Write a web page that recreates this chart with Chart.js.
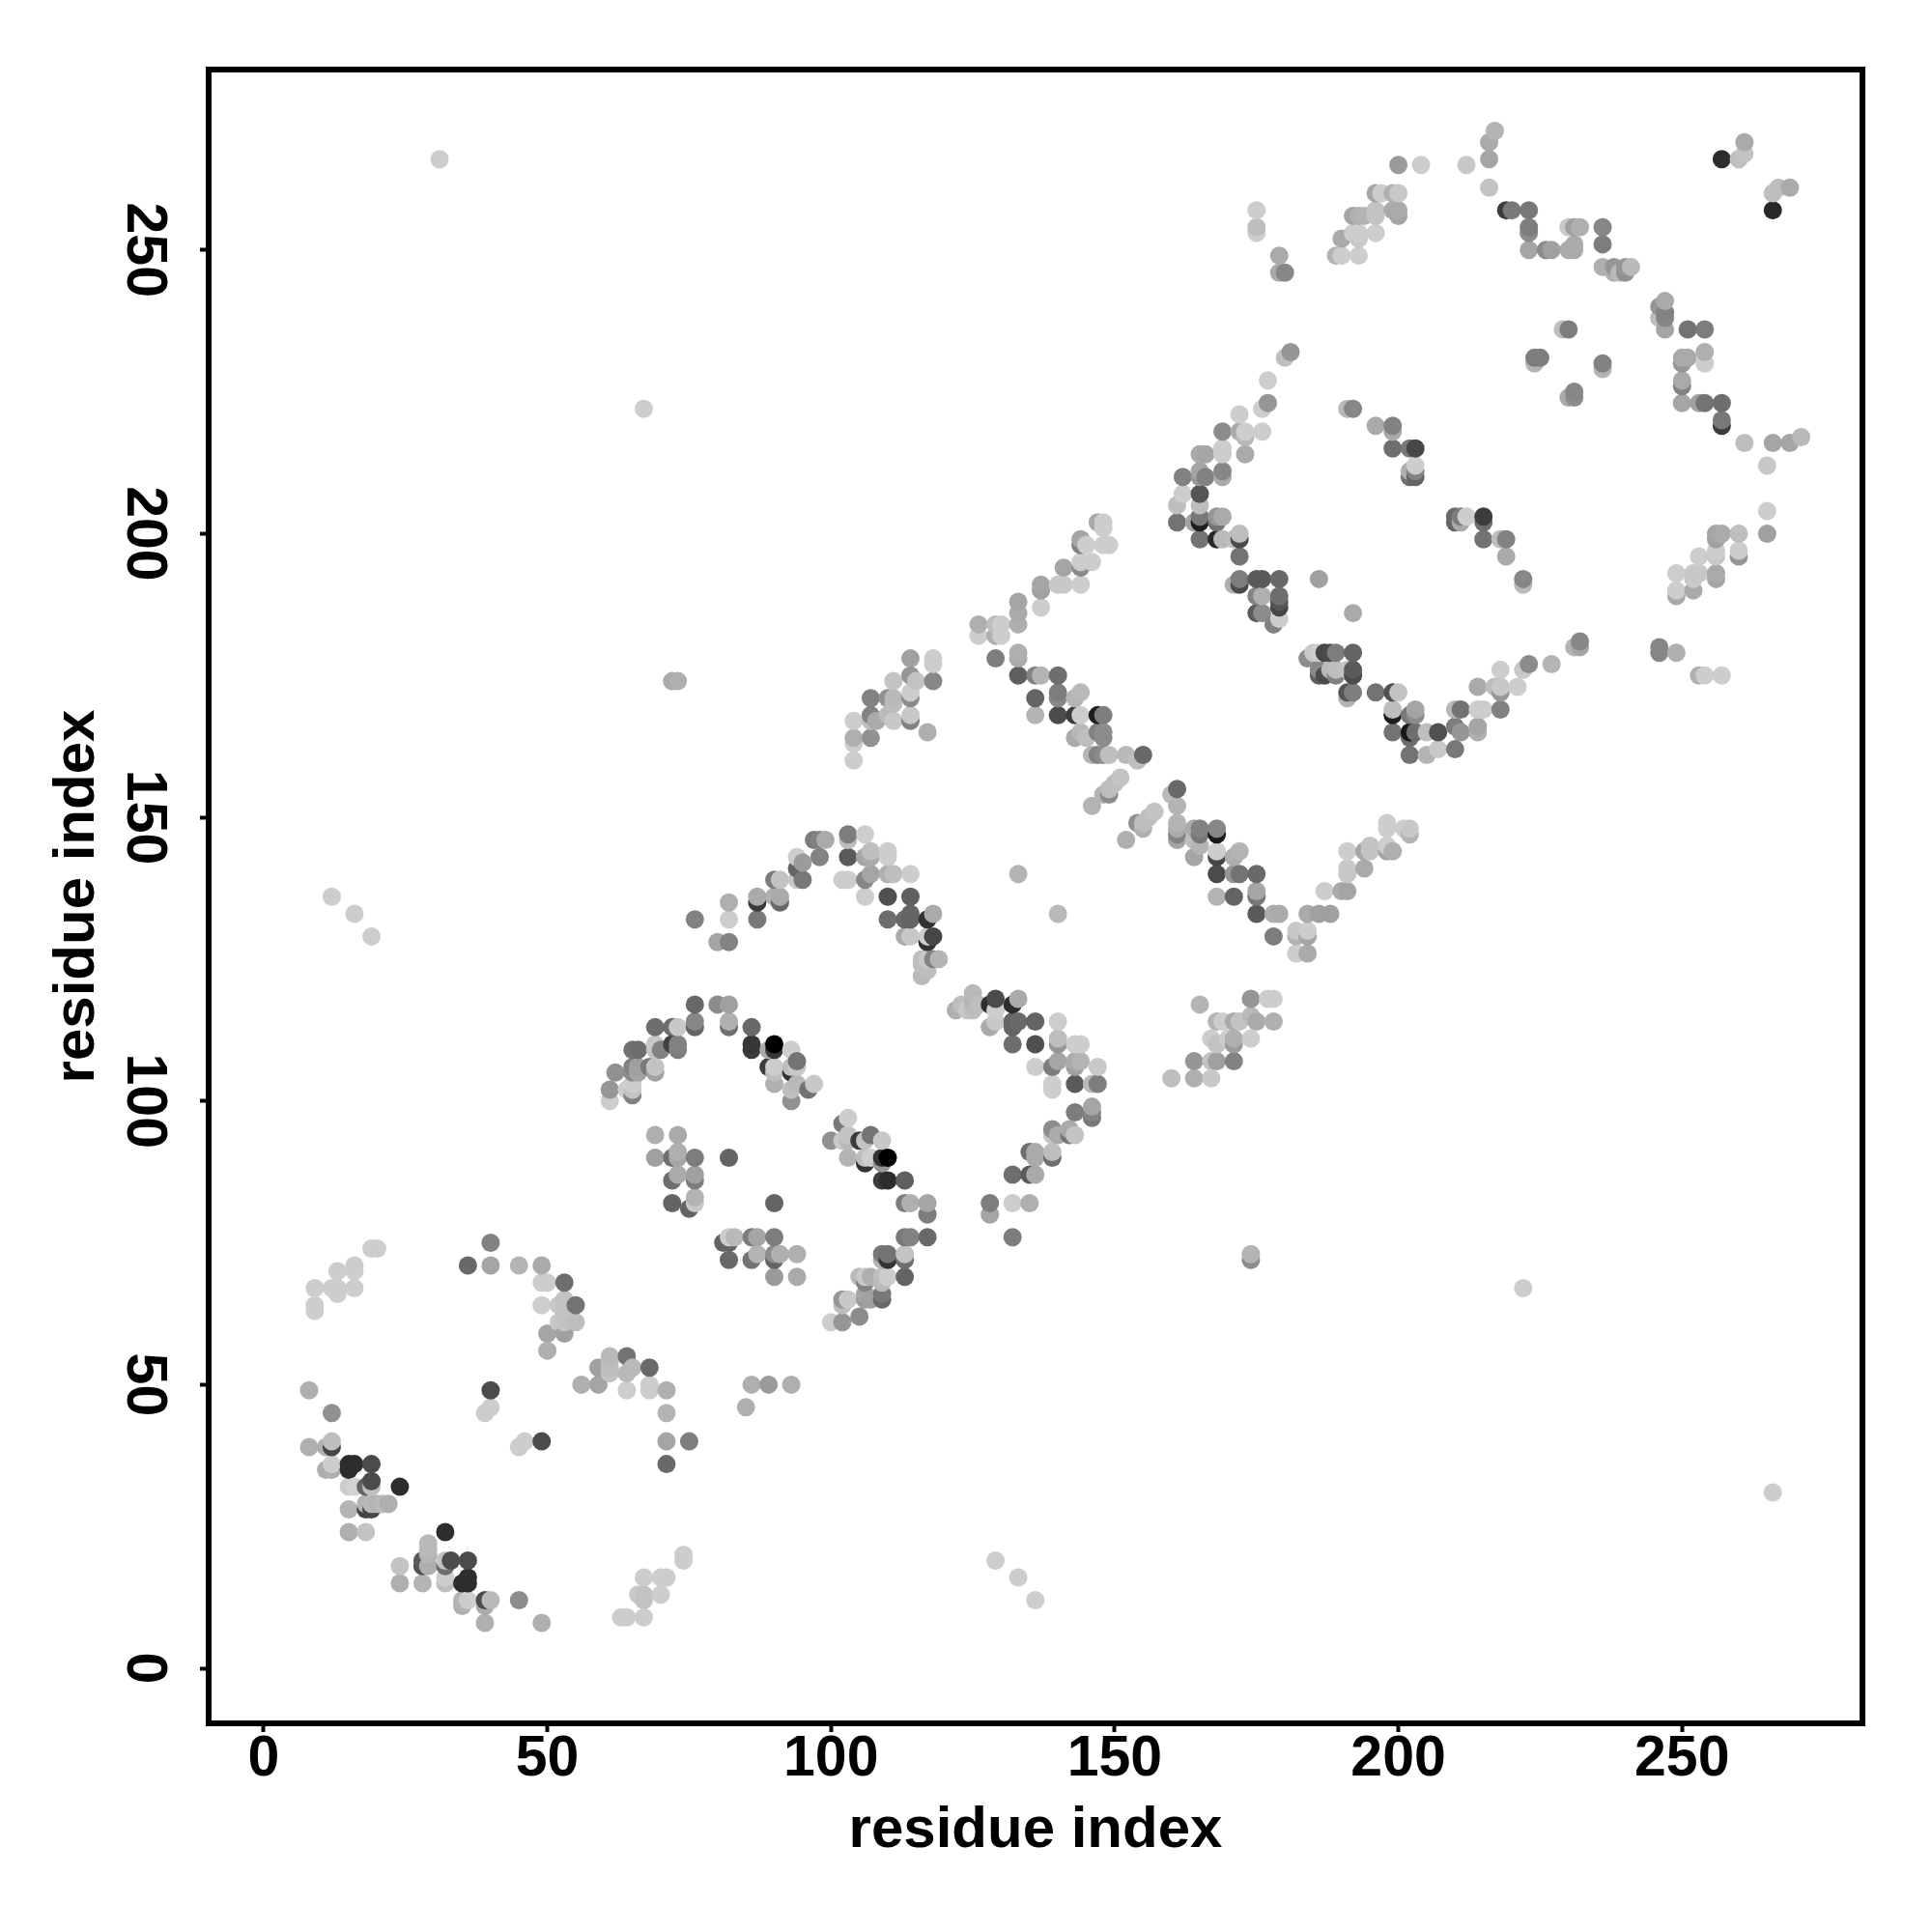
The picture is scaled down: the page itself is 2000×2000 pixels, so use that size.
<!DOCTYPE html>
<html>
<head>
<meta charset="utf-8">
<title>residue contacts</title>
<script src="https://cdn.jsdelivr.net/npm/chart.js@4"></script>
<style>
  body { margin: 0; background: #fff; }
</style>
</head>
<body>
<canvas id="myChart" width="2000" height="2000"></canvas>
<script>
// tick labels of both axes
const tickValues = [0, 50, 100, 150, 200, 250]

// contacts: residue i, residue j, score (0 = faint, 255 = strongest)
const residueI = [
  19,20,16,16,13,9,12,13,13,16,9,9,
  40,36,40,45,49,49,50,53,49,52,53,53,55,52,53,55,50,53,50,
  56,59,59,61,61,61,61,64,64,65,68,64,68,68,71,71,71,75,71,
  40,40,39,49,46,45,8,12,8,11,12,12,11,12,12,15,15,16,19,19,18,15,16,19,24,
  15,18,18,19,19,21,22,20,15,18,32,29,29,29,
  24,24,28,28,29,28,32,32,33,36,32,32,35,36,36,35,35,36,39,40,39,39,45,49,
  74,74,67,70,71,66,67,67,70,63,64,67,
  86,85,89,93,31,67,72,73,12,16,19,174,174,222,129,133,136,266,
  76,80,82,69,72,73,76,76,82,82,86,72,73,73,69,69,70,65,66,86,86,90,90,89,93,
  62,65,65,66,66,68,69,69,89,90,90,94,93,94,93,61,61,64,65,65,65,90,93,94,96,97,93,
  69,73,69,72,73,73,76,82,72,73,76,76,72,75,76,76,90,
  81,82,83,86,87,90,82,82,86,87,90,90,91,94,90,94,
  100,103,102,103,102,103,105,106,107,109,103,106,107,106,109,110,109,109,110,113,
  113,114,117,117,113,114,117,109,110,110,109,113,113,113,105,106,107,110,109,106,109,102,103,106,106,109,109,107,
  100,102,105,102,
  76,82,82,80,82,87,87,87,90,91,91,90,91,94,94,95,95,94,98,97,98,99,103,103,106,103,106,107,107,110,110,
  102,103,106,107,110,111,114,106,110,114,110,113,114,114,117,118,113,114,117,118,117,
  116,116,117,118,119,117,116,122,123,124,125,125,125,125,126,128,129,129,132,133,
  128,129,132,132,133,136,140,132,136,140,140,143,144,136,139,140,143,143,144,147,139,139,143,146,147,
  143,146,146,146,139,140,139,142,143,142,135,136,136,139,139,132,135,136,128,132,135,128,132,133,140,152,146,
  126,126,129,130,129,130,133,133,133,137,137,137,140,141,144,141,144,144,144,144,145,146,147,148,148,148,149,
  114,118,118,118,111,114,115,114,114,107,110,111,111,114,114,107,108,111,110,104,107,104,107,104,104,117,
  129,133,133,133,136,137,140,136,136,140,140,140,143,144,144,143,147,148,
  143,144,147,148,148,145,146,147,148,149,152,154,155,151,150,149,148,149,
  161,160,161,157,156,155,155,154,161,161,161,161,164,165,165,168,168,164,165,164,168,168,172,171,
  168,171,172,175,168,171,175,175,175,178,179,178,182,184,182,184,182,184,
  184,186,188,187,190,191,191,191,194,191,194,195,195,198,198,198,199,198,202,202,201,
  165,174,177,178,168,169,171,172,174,175,178,167,168,170,171,171,174,164,167,168,171,160,164,167,
  192,184,185,186,187,188,189,192,186,186,187,188,189,189,191,192,192,191,192,191,196,199,200,186,
  199,199,202,203,203,199,202,203,202,205,207,202,205,207,210,210,211,210,211,214,214,214,215,
  218,218,214,217,218,218,221,223,222,227,232,231,232,
  177,176,172,169,172,173,173,176,173,165,166,169,169,165,162,165,166,169,169,
  162,161,165,165,161,164,165,165,168,169,168,165,168,169,171,172,172,172,
  172,171,172,175,176,179,175,176,179,179,179,175,176,179,178,
  222,222,215,215,210,211,210,211,212,215,218,219,219,203,202,203,203,202,199,202,203,196,199,199,192,191,
  217,216,216,212,204,200,216,261,261,260,257,269,267,266,266,219,220,223,223,223,223,226,227,
  230,231,232,236,236,231,231,230,236,238,238,240,240,241,239,
  247,246,247,246,247,247,251,254,250,251,254,254,250,250,250,250,253,254,257,257,257,
  261,266,269,271,265,265,265,260,256,257,256,260,260,253,256,256,256,256,
  249,252,252,253,249,249,252,246,246,249,253,254,257,
  196,197,199,200,192,193,194,196,196,199,200,200,190,192,193,193,196,189,190,193,
  230,229,225,224,224,236,236,231,231,230,180,179,179,175,175,175,181,180,177
]
const residueJ = [
  74,74,71,70,70,67,67,66,67,67,64,63,
  75,71,71,71,71,68,68,68,64,64,65,63,64,61,61,61,59,59,56,
  50,50,53,55,54,53,52,55,52,53,53,49,50,49,49,45,40,40,36,
  49,46,45,40,40,39,49,45,39,39,39,40,35,35,36,36,35,36,36,33,32,32,32,32,32,
  28,29,28,28,29,29,29,29,24,24,24,22,21,20,
  18,15,19,18,18,15,19,18,19,19,16,15,15,16,15,12,11,12,12,12,11,8,12,8,
  20,19,16,16,16,13,13,12,13,9,9,9,
  50,46,50,50,266,222,174,174,136,133,129,73,72,67,19,16,12,31,
  117,117,117,113,113,113,114,113,114,113,113,110,110,109,109,110,109,109,109,110,109,110,109,109,109,
  105,106,105,106,105,106,106,105,106,106,105,107,106,106,105,102,100,102,101,102,103,103,102,103,102,103,100,
  94,94,90,90,90,91,90,90,86,87,87,86,82,81,82,83,82,
  75,76,76,76,76,76,75,72,72,73,73,72,73,73,69,69,
  93,97,96,94,93,93,93,93,94,93,90,90,90,89,90,90,89,86,86,86,
  82,82,82,80,76,76,76,73,73,72,72,73,72,69,69,69,69,69,69,68,68,65,65,66,65,65,66,65,
  61,61,62,64,
  132,132,135,128,128,132,136,135,136,136,135,139,139,143,139,139,142,141,143,146,146,146,147,146,147,143,143,144,143,144,143,
  139,139,139,140,140,140,140,136,136,136,132,132,132,133,132,133,129,129,129,129,128,
  125,124,125,125,125,123,122,116,117,116,119,118,117,116,117,117,118,116,117,118,
  113,114,114,113,114,114,114,110,110,111,110,110,110,106,106,107,106,107,107,106,103,102,103,103,103,
  98,99,97,98,95,94,94,95,94,94,91,91,90,91,90,87,87,87,82,82,82,80,76,140,133,146,152,
  184,182,184,184,182,182,188,186,184,191,190,187,191,191,191,194,194,195,199,198,198,195,202,202,201,198,198,
  178,178,177,174,174,175,174,172,171,171,171,171,170,168,167,168,167,167,168,167,167,164,164,163,160,165,
  178,179,178,175,175,175,175,171,168,172,171,168,168,168,172,171,168,168,
  164,165,165,165,164,164,161,161,161,161,161,160,161,157,156,155,154,154,
  155,154,152,151,150,149,148,149,149,148,147,146,148,148,147,148,147,146,145,143,144,143,144,143,
  140,140,140,140,136,136,137,136,133,133,133,129,130,130,129,129,126,126,
  133,133,133,137,137,137,141,140,141,144,144,144,145,149,148,145,144,144,148,147,148,
  117,118,118,118,114,114,114,114,115,114,114,111,110,111,111,110,111,107,107,107,107,104,104,104,
  186,178,179,179,179,179,179,179,176,175,175,176,176,175,176,176,175,172,172,171,172,172,172,192,
  169,168,168,169,168,165,165,165,164,165,165,161,161,162,162,166,165,169,169,166,165,169,169,
  169,172,173,173,173,176,173,177,176,177,181,180,180,
  223,222,221,218,218,218,217,218,214,214,214,215,214,211,210,210,210,211,210,
  207,205,207,205,202,202,203,202,203,203,202,199,199,199,199,200,199,196,
  192,191,191,192,192,192,189,189,189,188,187,186,186,185,184,
  192,191,203,202,203,203,202,202,203,199,199,199,196,212,211,211,210,210,215,215,215,219,219,218,222,222,
  271,269,266,265,265,265,261,269,267,266,266,261,261,260,257,257,257,257,254,253,250,250,250,
  254,254,254,254,251,251,250,250,247,247,246,247,246,247,246,
  241,240,239,238,238,236,236,236,231,231,232,230,230,227,226,223,223,223,223,220,219,
  216,216,216,217,212,204,200,200,200,200,199,197,196,196,197,196,193,192,
  193,193,192,193,190,189,190,180,179,179,175,175,175,
  260,260,260,260,256,256,256,257,256,257,257,256,252,253,253,252,253,249,249,249,
  236,236,231,231,230,230,229,225,224,224,246,249,246,257,254,253,232,231,227
]
const contactScore = [
  50,50,50,50,50,50,50,50,50,50,50,50,
  125,150,90,75,85,50,50,145,50,55,60,60,140,55,60,65,90,95,80,
  80,90,95,70,65,65,60,140,70,70,150,50,50,50,80,75,90,130,150,
  180,50,50,180,50,50,80,110,80,80,185,65,80,80,50,210,210,210,180,180,155,50,45,65,210,
  75,75,185,185,70,70,80,75,80,60,210,70,70,75,
  60,80,165,175,80,75,60,145,180,180,50,65,210,210,210,75,80,50,180,70,85,80,115,80,
  50,50,50,50,50,55,60,60,50,50,50,50,
  80,80,100,80,50,50,85,80,50,50,50,75,115,50,50,50,50,50,
  150,115,95,145,145,55,120,155,80,145,150,190,125,130,60,55,125,140,145,200,195,255,200,85,50,
  110,125,115,95,90,135,60,95,195,50,65,140,65,55,205,105,50,50,125,60,50,80,65,70,140,55,110,
  80,85,95,145,90,80,130,155,145,85,95,130,155,155,55,75,155,
  155,50,70,130,90,130,155,150,140,75,115,155,80,80,100,85,
  110,50,135,60,55,70,195,60,140,55,75,65,50,205,205,255,105,195,210,160,
  130,80,90,130,135,125,150,135,140,205,75,60,145,155,70,55,80,50,65,125,70,105,55,90,100,150,135,95,
  50,105,115,65,
  125,50,80,90,125,135,85,195,80,85,150,130,60,50,55,135,100,155,125,130,125,85,130,65,50,165,90,65,85,50,50,
  50,50,120,90,80,65,50,50,175,160,145,150,155,155,205,85,85,55,50,185,205,
  65,65,55,125,75,65,70,80,65,55,70,75,70,65,65,210,180,50,210,85,
  85,55,155,155,150,155,50,145,175,65,105,50,50,50,130,90,95,85,75,55,50,50,165,70,130,
  130,90,135,125,115,85,60,85,60,135,145,85,85,65,145,145,165,85,130,50,80,90,130,75,70,80,75,
  80,50,65,50,80,50,90,85,80,90,95,50,55,55,50,90,115,50,90,125,50,50,85,50,50,50,50,
  95,50,50,120,60,105,60,50,115,125,110,70,65,55,125,125,85,55,70,50,65,80,110,50,50,80,
  130,80,85,160,125,75,145,155,75,130,120,180,195,50,70,75,225,130,
  85,70,125,115,115,65,75,125,115,65,70,65,150,60,65,65,75,115,
  150,70,75,60,65,65,80,110,75,85,125,90,85,125,135,120,230,65,75,90,50,185,75,80,
  180,105,140,150,75,155,90,135,165,80,85,130,55,50,75,90,50,85,
  85,95,95,50,85,90,55,55,85,50,90,60,60,50,50,50,80,90,55,75,50,
  75,105,50,50,75,50,85,60,70,85,80,50,60,50,80,100,50,105,60,95,125,65,80,55,
  85,115,55,50,185,180,130,155,120,160,180,70,65,125,60,165,180,170,130,75,140,175,60,95,
  65,225,135,90,115,140,230,145,145,65,175,140,75,55,135,130,105,70,140,90,80,50,50,
  125,105,85,65,55,50,50,115,55,75,120,75,90,
  105,50,50,115,85,50,70,50,85,85,90,50,50,90,125,105,125,120,85,
  50,65,170,65,140,90,135,225,105,85,140,140,215,70,65,65,180,140,
  130,80,180,165,165,150,125,80,145,170,185,165,115,50,125,
  120,70,195,145,150,130,155,85,50,140,65,125,85,50,80,125,155,145,145,135,185,85,125,85,120,70,
  75,85,90,55,50,100,60,85,60,65,210,85,65,65,215,195,135,135,130,115,90,115,95,
  55,95,80,120,130,85,85,85,80,105,80,105,110,70,70,
  85,105,125,65,120,90,140,130,85,85,80,50,105,85,125,90,95,140,145,135,195,
  65,90,90,70,55,50,95,65,90,85,95,50,105,50,50,55,85,90,
  50,55,55,55,50,85,85,120,120,80,80,50,50,
  90,50,80,55,90,80,75,60,60,85,85,90,85,50,50,55,50,75,50,50,
  130,65,130,130,75,125,75,120,115,85,120,85,85,50,65,50,105,65,50
]

if (residueI.length !== residueJ.length || residueI.length !== contactScore.length) {
  console.error("array lengths differ", residueI.length, residueJ.length, contactScore.length)
}

// draw left to right, bottom to top so the overlaps stack like the original
let order = residueI.map((v, i) => i)
order.sort((a, b) => residueI[a] - residueI[b] || residueJ[a] - residueJ[b])

const points = order.map(i => ({ x: residueI[i], y: residueJ[i] }))
const colors = order.map(i => {
  let g = 255 - contactScore[i]
  return "rgb(" + g + "," + g + "," + g + ")"
})

const tickFont = { family: "'Liberation Sans'", size: 59, weight: "bold", lineHeight: 1 }
const titleFont = { family: "'Liberation Sans'", size: 60, weight: "bold", lineHeight: 1 }

function setTicks(scale) {
  scale.ticks = tickValues.map(v => ({ value: v }))
}

// frame round the plot
const framePlugin = {
  id: "frame",
  afterDraw(chart) {
    let a = chart.chartArea
    let c = chart.ctx
    c.save()
    c.strokeStyle = "#000"
    c.lineWidth = 6
    c.strokeRect(a.left, a.top, a.right - a.left, a.bottom - a.top)
    c.restore()
  }
}

new Chart(document.getElementById("myChart"), {
  type: "scatter",
  data: {
    datasets: [{
      data: points,
      pointBackgroundColor: colors,
      pointBorderWidth: 0,
      pointRadius: 9.5,
      pointHoverRadius: 9.5
    }]
  },
  plugins: [framePlugin],
  options: {
    responsive: false,
    animation: false,
    layout: { padding: { top: 72, right: 72, left: 0, bottom: 0 } },
    plugins: { legend: { display: false }, tooltip: { enabled: false } },
    scales: {
      x: {
        type: "linear",
        min: -9.7,
        max: 281.8,
        afterBuildTicks: setTicks,
        afterFit(scale) { scale.height = 216 },
        border: { display: false },
        grid: { drawOnChartArea: false, drawTicks: true, tickLength: 9, tickWidth: 4, tickColor: "#000" },
        ticks: { color: "#000", font: tickFont, padding: -1, maxRotation: 0, minRotation: 0, autoSkip: false },
        title: { display: true, text: "residue index", color: "#000", font: titleFont, padding: { top: 0, bottom: 75 } }
      },
      y: {
        type: "linear",
        min: -9.7,
        max: 281.8,
        afterBuildTicks: setTicks,
        afterFit(scale) { scale.width = 216 },
        border: { display: false },
        grid: { drawOnChartArea: false, drawTicks: true, tickLength: 9, tickWidth: 4, tickColor: "#000" },
        ticks: { color: "#000", font: tickFont, padding: 10, minRotation: -90, maxRotation: -90, crossAlign: "center", autoSkip: false },
        title: { display: true, text: "residue index", color: "#000", font: titleFont, padding: { top: 50, bottom: 0 } }
      }
    }
  }
})
</script>
</body>
</html>
